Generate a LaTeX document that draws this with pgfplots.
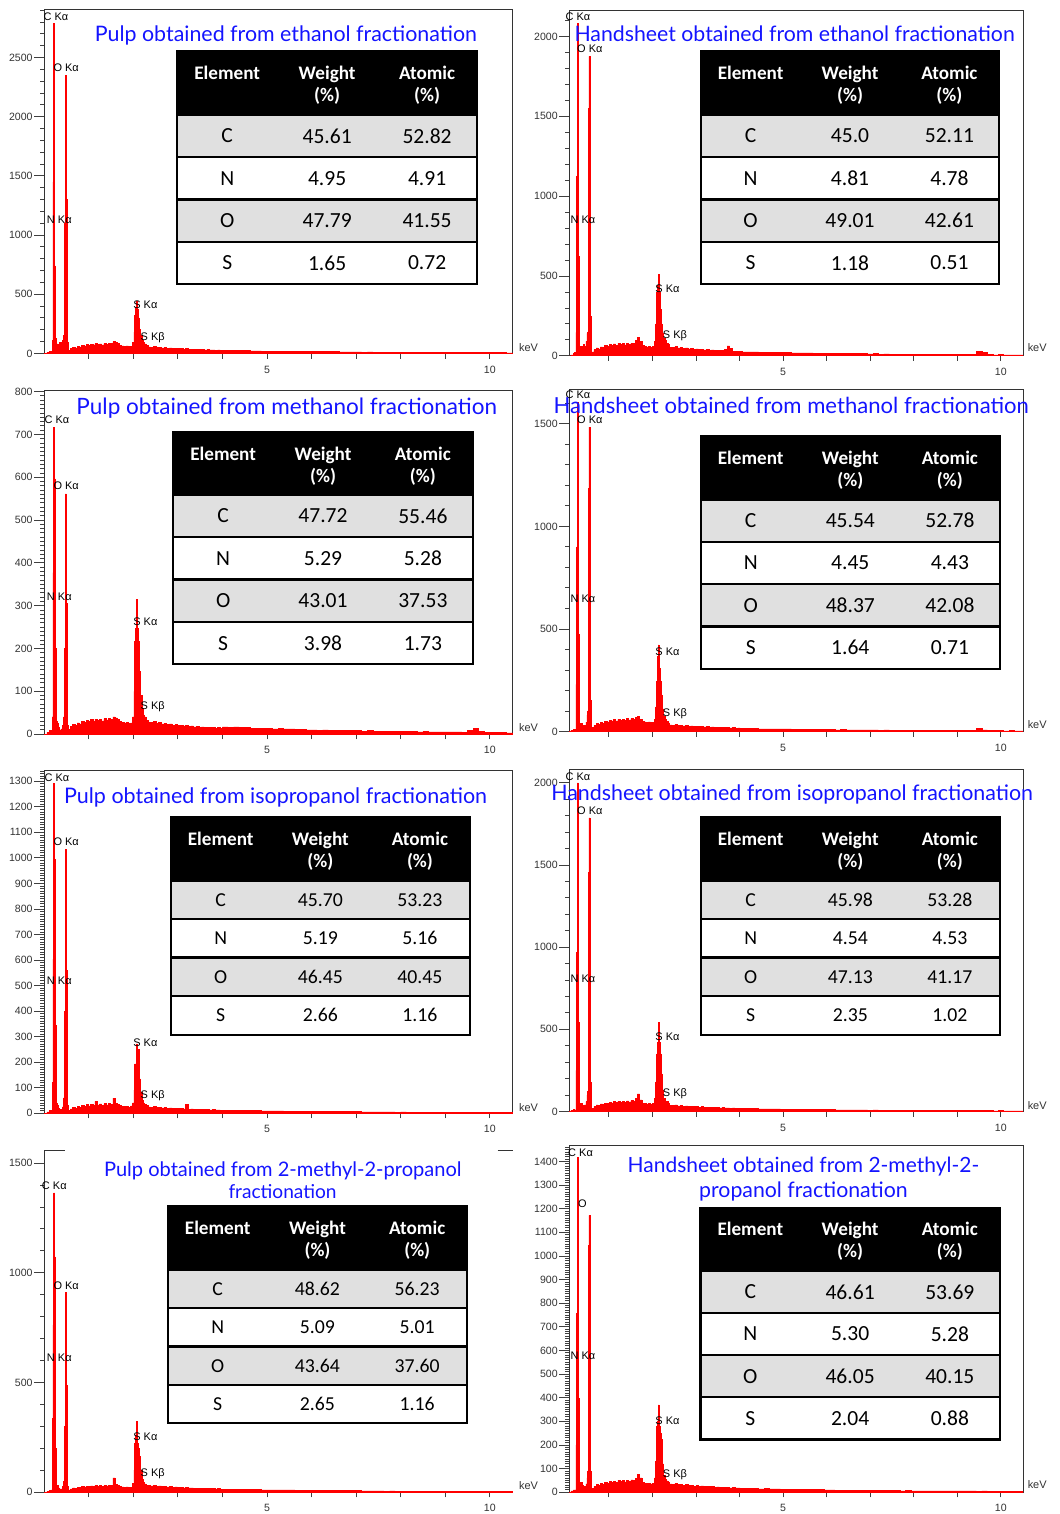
\documentclass[border=0pt]{standalone}
\usepackage{pgfplots}
\usepackage{pgfplotstable}
\pgfplotsset{compat=1.18}
\usepackage{graphicx}
\usepackage{fontspec}
\setmainfont{Liberation Sans}
\newfontfamily\titlefont{Lato}
\newfontfamily\tabfont{Carlito}
\definecolor{tabgray}{gray}{0.88}
\definecolor{ttlblue}{RGB}{20,20,255}
\newcommand\hdfont{\tabfont\bfseries\fontsize{9.6}{10}\selectfont}

\pgfplotstableread{
xL xR p1 p2 p3 p4 p5 p6 p7 p8
0.000 0.065 0 0 0 0 0 0 0 0
0.060 0.125 8 6 4 5 5 6 4 5
0.120 0.185 20 15 8 10 10 12 8 10
0.150 0.215 20 20 8 10 10 10 10 10
0.180 0.245 110 146 40 230 120 250 338 200
0.196 0.261 1450 1125 377 900 603 968 762 757
0.213 0.278 2790 2083 717 1605 1291 2000 1364 1416
0.234 0.299 740 625 596 473 994 543 1073 398
0.250 0.315 130 146 200 100 343 120 200 90
0.266 0.331 70 60 30 40 40 40 30 35
0.282 0.347 80 60 25 40 30 50 30 40
0.315 0.380 60 50 15 30 20 40 20 30
0.345 0.410 90 70 10 25 15 35 15 25
0.375 0.440 75 60 12 30 15 40 15 25
0.405 0.470 110 90 20 45 25 60 25 35
0.430 0.495 150 140 40 80 60 100 50 60
0.448 0.513 200 150 40 100 80 120 60 90
0.460 0.525 1100 677 200 576 400 644 300 398
0.468 0.533 2116 1552 526 1184 922 1453 785 1045
0.476 0.541 2352 1875 561 1484 1033 1787 909 1172
0.497 0.562 1300 1083 305 811 561 957 489 398
0.510 0.575 300 250 60 150 100 180 90 90
0.522 0.587 90 80 20 45 30 55 28 40
0.535 0.600 26 25 11 19 12 20 10 16
0.590 0.655 41 38 18 30 17 31 15 25
0.640 0.705 52 49 22 38 24 40 20 32
0.690 0.755 46 43 20 34 19 35 17 28
0.740 0.805 60 56 26 44 27 46 22 36
0.790 0.855 56 52 24 41 23 43 21 34
0.840 0.905 68 63 29 50 30 51 25 41
0.890 0.955 64 60 27 47 26 48 24 38
0.940 1.005 75 70 32 55 33 57 28 45
0.990 1.055 69 64 29 51 28 52 26 41
1.040 1.105 79 74 34 58 35 60 29 47
1.090 1.155 71 66 30 52 31 54 27 43
1.140 1.205 82 77 35 60 46 63 31 50
1.190 1.255 75 70 32 55 32 57 28 45
1.240 1.305 81 76 35 59 36 62 30 49
1.290 1.355 73 68 31 53 30 55 27 44
1.340 1.405 84 78 36 62 37 64 31 50
1.390 1.455 77 71 33 56 32 58 29 46
1.440 1.505 86 80 37 63 38 66 32 52
1.490 1.555 82 77 35 60 34 63 31 50
1.540 1.605 100 95 40 70 59 80 65 58
1.590 1.655 94 115 38 73 39 107 35 75
1.640 1.705 82 90 35 60 34 70 31 60
1.690 1.755 68 63 29 50 30 51 25 41
1.740 1.805 64 60 27 47 26 48 24 38
1.790 1.855 60 56 26 44 27 46 22 36
1.840 1.905 64 60 27 47 26 48 24 38
1.890 1.955 58 55 25 43 24 44 22 35
1.940 2.005 62 57 26 45 28 47 23 37
1.980 2.045 90 90 40 60 40 80 40 60
2.010 2.075 180 200 100 120 90 180 100 130
2.030 2.095 320 396 216 243 193 350 224 277
2.050 2.115 390 440 247 365 193 421 260 300
2.070 2.135 440 510 315 422 271 543 323 369
2.090 2.155 370 396 247 308 193 421 224 277
2.110 2.175 300 292 216 243 251 350 200 250
2.135 2.200 200 200 146 178 134 229 164 222
2.160 2.225 150 140 90 110 80 130 100 120
2.190 2.255 110 110 60 75 50 80 60 70
2.220 2.285 95 100 45 60 40 65 45 55
2.250 2.315 80 80 40 50 35 60 38 48
2.290 2.355 70 72 32 42 30 50 32 42
2.33 2.395 55 55 28 32 25 38 30 35
2.39 2.455 52 52 27 30 24 36 29 33
2.45 2.515 58 58 29 34 26 40 32 37
2.51 2.575 50 50 25 29 23 34 27 32
2.57 2.635 52 52 27 30 24 36 29 33
2.63 2.695 47 47 24 27 21 32 26 30
2.69 2.755 50 50 25 29 23 34 27 32
2.75 2.815 44 44 22 26 20 30 24 28
2.81 2.875 47 47 24 27 21 32 26 30
2.87 2.935 41 41 21 24 19 29 23 26
2.93 2.995 44 44 22 26 20 30 24 28
2.99 3.055 40 40 20 23 18 27 22 25
3.05 3.115 42 42 21 24 19 29 23 27
3.11 3.175 37 37 19 22 17 26 20 24
3.17 3.235 40 40 20 23 33 27 22 25
3.23 3.295 36 36 18 21 16 25 20 23
3.29 3.355 37 37 19 22 17 26 20 24
3.35 3.415 33 33 17 19 15 23 18 21
3.41 3.475 35 35 18 20 16 24 19 22
3.47 3.535 32 32 16 19 15 22 17 20
3.53 3.595 33 33 17 19 15 23 18 21
3.59 3.655 30 38 15 18 14 21 17 19
3.65 3.715 32 62 16 19 15 22 17 20
3.71 3.775 29 45 15 17 13 20 16 18
3.77 3.835 30 30 15 18 14 21 17 19
3.83 3.895 28 28 14 16 13 19 15 18
3.89 3.955 29 29 15 17 13 20 16 18
3.95 4.015 26 26 13 15 12 18 14 16
4.000 4.065 25 25 17 15 12 17 14 16
4.125 4.190 24 24 16 14 11 17 13 15
4.250 4.315 25 25 17 14 11 17 14 16
4.375 4.440 23 23 15 13 10 16 12 14
4.500 4.565 23 23 15 13 11 16 13 15
4.625 4.690 21 21 14 12 10 15 12 14
4.750 4.815 22 22 14 13 10 15 12 14
4.875 4.940 20 20 13 12 9 14 11 13
5.000 5.065 20 20 13 12 9 14 11 13
5.125 5.190 19 19 12 11 9 13 10 12
5.250 5.315 19 19 13 11 9 13 11 12
5.375 5.440 18 18 12 10 8 12 10 11
5.500 5.565 18 18 12 11 8 13 10 12
5.625 5.690 17 17 11 10 8 11 9 11
5.750 5.815 17 17 11 10 8 12 9 11
5.875 5.940 15 15 10 9 7 11 8 10
6.000 6.065 16 16 10 9 7 11 9 10
6.125 6.190 14 14 9 8 7 10 8 9
6.250 6.315 15 15 10 9 7 10 8 9
6.375 6.440 14 14 9 8 6 10 8 9
6.500 6.565 14 14 9 8 7 10 8 9
6.625 6.690 13 13 8 7 6 9 7 8
6.750 6.815 13 13 9 8 6 9 7 8
6.875 6.940 12 12 8 7 6 8 7 8
7.000 7.065 13 13 8 7 6 9 7 8
7.125 7.190 11 11 7 6 5 8 6 7
7.250 7.315 12 12 8 7 5 8 6 7
7.375 7.440 10 10 7 6 5 7 6 7
7.500 7.565 11 11 7 6 5 8 6 7
7.625 7.690 10 10 6 6 5 7 5 6
7.750 7.815 10 10 7 6 5 7 6 7
7.875 7.940 9 9 6 5 4 6 5 6
8.000 8.065 10 10 6 6 5 7 5 6
8.125 8.190 9 9 6 5 4 6 5 6
8.250 8.315 9 9 6 5 4 6 5 6
8.375 8.440 8 8 5 5 4 6 5 5
8.500 8.565 9 9 6 5 4 6 5 6
8.625 8.690 8 8 5 4 4 5 4 5
8.750 8.815 8 8 5 5 4 6 5 5
8.875 8.940 7 7 5 4 3 5 4 5
9.000 9.065 8 8 5 4 4 5 4 5
9.125 9.190 7 7 5 4 3 5 4 5
9.250 9.315 8 8 5 5 4 5 4 5
9.375 9.440 7 30 4 16 3 5 4 4
9.500 9.565 7 20 9 8 3 5 4 5
9.625 9.690 7 7 14 4 3 5 4 4
9.750 9.815 6 6 7 4 3 4 3 4
9.875 9.940 7 7 4 4 3 5 4 4
10.000 10.065 6 6 4 3 3 4 3 4
10.125 10.190 6 6 4 4 3 4 3 4
10.250 10.315 6 6 4 3 3 4 3 4
10.375 10.440 5 5 3 3 2 3 3 3
10.520 10.510 5 5 3 3 2 3 3 3
}\spec

\pgfplotsset{
  eds/.style={
    scale only axis, anchor=south west,
    axis line style={black!80, line width=0.5pt},
    tick pos=left, tick align=outside,
    major tick length=5pt, minor tick length=2pt,
    tick style={black!75, line width=0.4pt},
    xtick={1,...,10}, xticklabels={,,,,5,,,,,10},
    xtick style={/pgfplots/major tick length=2.6pt},
    ticklabel style={font=\fontsize{5.3}{6}\selectfont, text=black!80},
    yticklabel style={inner sep=0.6pt},
    xticklabel style={inner sep=1pt},
    /pgf/number format/assume math mode=true,
    /pgf/number format/1000 sep={},
    scaled ticks=false,
    ymin=0,
  },
  edsL/.style={eds, width=235pt, xmin=0, xmax=10.52},
  edsR/.style={eds, width=227.5pt, xmin=0.09, xmax=10.51},
  spec/.style={draw=red, fill=red, line width=0.25pt, const plot mark left},
}

\newcommand\edstable[5]{\def\Ta{#1}\def\Tb{#2}\def\Tt{#3}\def\Th{#4}\def\Tr{#5}}
\newcommand\edsrows[9]{%
  \pgfmathsetmacro\Tw{\Tb-\Ta}%
  \pgfmathsetmacro\cA{\Ta+\Tw/6}%
  \pgfmathsetmacro\cB{\Ta+\Tw/2}%
  \pgfmathsetmacro\cC{\Ta+5*\Tw/6}%
  \pgfmathsetmacro\rA{\Th+0.5*\Tr}%
  \pgfmathsetmacro\rB{\Th+1.5*\Tr}%
  \pgfmathsetmacro\rC{\Th+2.5*\Tr}%
  \pgfmathsetmacro\rD{\Th+3.5*\Tr}%
  \pgfmathsetmacro\lA{\Th+\Tr}%
  \pgfmathsetmacro\lB{\Th+2*\Tr}%
  \pgfmathsetmacro\lC{\Th+3*\Tr}%
  \pgfmathsetmacro\lD{\Th+4*\Tr}%
  \pgfmathsetmacro\hA{\Tt+28.3}%
  \pgfmathsetmacro\hB{\Tt+50}%
  \fill[black] (\Ta,\Tt) rectangle (\Tb,\Th);
  \fill[tabgray] (\Ta,\Th) rectangle (\Tb,\lA);
  \fill[tabgray] (\Ta,\lB) rectangle (\Tb,\lC);
  \draw[line width=1.1pt] (\Ta,\Tt) rectangle (\Tb,\lD);
  \draw[line width=1.1pt] (\Ta,\Th) -- (\Tb,\Th) (\Ta,\lA) -- (\Tb,\lA) (\Ta,\lB) -- (\Tb,\lB) (\Ta,\lC) -- (\Tb,\lC);
  \node[text=white,font=\hdfont,anchor=base] at (\cA,\hA) {Element};
  \node[text=white,font=\hdfont,anchor=base] at (\cB,\hA) {Weight};
  \node[text=white,font=\hdfont,anchor=base] at (\cB,\hB) {(\%)};
  \node[text=white,font=\hdfont,anchor=base] at (\cC,\hA) {Atomic};
  \node[text=white,font=\hdfont,anchor=base] at (\cC,\hB) {(\%)};
  \node[font=\tabfont\fontsize{#1}{#1}\selectfont] at (\cA,\rA) {C};
  \node[font=\tabfont\fontsize{#1}{#1}\selectfont] at (\cB,\rA) {#2};
  \node[font=\tabfont\fontsize{#1}{#1}\selectfont] at (\cC,\rA) {#3};
  \node[font=\tabfont\fontsize{#1}{#1}\selectfont] at (\cA,\rB) {N};
  \node[font=\tabfont\fontsize{#1}{#1}\selectfont] at (\cB,\rB) {#4};
  \node[font=\tabfont\fontsize{#1}{#1}\selectfont] at (\cC,\rB) {#5};
  \node[font=\tabfont\fontsize{#1}{#1}\selectfont] at (\cA,\rC) {O};
  \node[font=\tabfont\fontsize{#1}{#1}\selectfont] at (\cB,\rC) {#6};
  \node[font=\tabfont\fontsize{#1}{#1}\selectfont] at (\cC,\rC) {#7};
  \node[font=\tabfont\fontsize{#1}{#1}\selectfont] at (\cA,\rD) {S};
  \node[font=\tabfont\fontsize{#1}{#1}\selectfont] at (\cB,\rD) {#8};
  \node[font=\tabfont\fontsize{#1}{#1}\selectfont] at (\cC,\rD) {#9};
}
\newcommand\ttl[4]{\node[anchor=base, text=ttlblue, inner sep=0] at (#1,#2) {\resizebox{#3}{!}{\titlefont #4}};}
\newcommand\pk[3]{\node[anchor=west, inner sep=0, font=\fontsize{5.5}{6}\selectfont] at (#1,#2) {#3};}
\newcommand\kev[2]{\node[anchor=west, inner sep=0, text=black!80, font=\fontsize{5.5}{6}\selectfont] at (#1,#2) {keV};}
\newcommand\peaks[5]{%
  \pk{#1}{#2}{C Kα}}

\begin{document}
\begin{tikzpicture}
\begin{scope}[x=0.5pt,y=-0.5pt]
\useasboundingbox (0,0) rectangle (1062,1514);
\end{scope}

% Panel 1
\begin{axis}[edsL, at={(22.15pt,-177.15pt)}, height=172.15pt, ymax=2902,
  ytick={0,500,...,2500}, minor ytick={0,100,...,2900}]
\addplot[spec] table[x=xL,y=p1]{\spec} \closedcycle;
\end{axis}
% Panel 2
\begin{axis}[edsR, at={(285.35pt,-178.35pt)}, height=173pt, ymax=2162,
  ytick={0,500,...,2000}, minor ytick={0,100,...,2100}]
\addplot[spec] table[x=xR,y=p2]{\spec} \closedcycle;
\end{axis}
% Panel 3
\begin{axis}[edsL, at={(22.15pt,-368pt)}, height=172.15pt, ymax=802,
  ytick={0,100,...,800}, minor ytick={0,10,...,800}]
\addplot[spec] table[x=xL,y=p3]{\spec} \closedcycle;
\end{axis}
% Panel 4
\begin{axis}[edsR, at={(285.35pt,-366.65pt)}, height=171.65pt, ymax=1670,
  ytick={0,500,1000,1500}, minor ytick={0,100,...,1600}]
\addplot[spec] table[x=xR,y=p4]{\spec} \closedcycle;
\end{axis}
% Panel 5
\begin{axis}[edsL, at={(22.15pt,-558pt)}, height=171.85pt, ymax=1343,
  ytick={0,100,...,1300}, minor ytick={0,10,...,1340}]
\addplot[spec] table[x=xL,y=p5]{\spec} \closedcycle;
\end{axis}
% Panel 6
\begin{axis}[edsR, at={(285.35pt,-557.15pt)}, height=171.3pt, ymax=2080,
  ytick={0,500,...,2000}, minor ytick={0,100,...,2000}]
\addplot[spec] table[x=xR,y=p6]{\spec} \closedcycle;
\end{axis}
% Panel 7
\begin{axis}[edsL, at={(22.15pt,-748pt)}, height=171.35pt, ymax=1558,
  axis x line*=bottom, axis y line*=left, tick align=outside,
  ytick={0,500,1000,1500}, minor ytick={0,100,...,1500}]
\addplot[spec] table[x=xL,y=p7]{\spec} \closedcycle;
\end{axis}
% Panel 8
\begin{axis}[edsR, at={(285.35pt,-748pt)}, height=173.85pt, ymax=1468,
  ytick={0,100,...,1400}, minor ytick={0,10,...,1460}]
\addplot[spec] table[x=xR,y=p8]{\spec} \closedcycle;
\end{axis}

\begin{scope}[x=0.5pt,y=-0.5pt]
% panel 7 top bracket
\draw[black!80, line width=0.5pt] (44.3,1153.3) -- (65,1153.3) (499,1153.3) -- (514.3,1153.3);

% keV labels
\kev{520}{348}\kev{1030}{348.3}
\kev{520}{729}\kev{1030}{726.7}
\kev{520}{1110}\kev{1030}{1108.3}
\kev{520}{1489}\kev{1030}{1488.3}

% peak labels
\pk{43.3}{16.7}{C Kα}\pk{53.3}{68.3}{O Kα}\pk{46.7}{220}{N Kα}\pk{133.3}{305}{S Kα}\pk{140.7}{338.3}{S Kβ}
\pk{566.7}{16.7}{C Kα}\pk{578.3}{49.3}{O Kα}\pk{571.7}{220.7}{N Kα}\pk{656.7}{289.3}{S Kα}\pk{664.3}{336.7}{S Kβ}
\pk{44.3}{420.7}{C Kα}\pk{53.3}{487.3}{O Kα}\pk{46.7}{598.3}{N Kα}\pk{133.3}{623.3}{S Kα}\pk{140.7}{708.3}{S Kβ}
\pk{566.7}{396}{C Kα}\pk{578.3}{420.7}{O Kα}\pk{571.7}{600}{N Kα}\pk{656.7}{653.3}{S Kα}\pk{664.3}{715}{S Kβ}
\pk{44.3}{780}{C Kα}\pk{53.3}{844.3}{O Kα}\pk{46.7}{983.3}{N Kα}\pk{133.3}{1045}{S Kα}\pk{140.7}{1098.3}{S Kβ}
\pk{566.7}{778.3}{C Kα}\pk{578.3}{812.7}{O Kα}\pk{571.7}{981.7}{N Kα}\pk{656.7}{1039}{S Kα}\pk{664.3}{1096.7}{S Kβ}
\pk{41.7}{1189}{C Kα}\pk{53.3}{1289}{O Kα}\pk{46.7}{1361.7}{N Kα}\pk{133.3}{1440}{S Kα}\pk{140.7}{1477.3}{S Kβ}
\pk{569.3}{1156}{C Kα}\pk{579.3}{1207.3}{O}\pk{571.7}{1359}{N Kα}\pk{656.7}{1424}{S Kα}\pk{664.3}{1478.3}{S Kβ}

% titles
\ttl{286.7}{41.7}{191.5pt}{Pulp obtained from ethanol fractionation}
\ttl{796.7}{41.7}{220.7pt}{Handsheet obtained from ethanol fractionation}
\ttl{287.5}{416}{210.8pt}{Pulp obtained from methanol fractionation}
\ttl{793.3}{415}{238.3pt}{Handsheet obtained from methanol fractionation}
\ttl{276.3}{805.7}{212pt}{Pulp obtained from isopropanol fractionation}
\ttl{794.2}{802.3}{241.5pt}{Handsheet obtained from isopropanol fractionation}
\ttl{283.5}{1179.3}{179.2pt}{Pulp obtained from 2-methyl-2-propanol}
\ttl{283.3}{1201.7}{54.2pt}{fractionation}
\ttl{805.5}{1175.3}{176.2pt}{Handsheet obtained from 2-methyl-2-}
\ttl{805.5}{1201}{104.5pt}{propanol fractionation}

% tables
\edstable{177.7}{478.3}{51.7}{115}{42.5}
\edsrows{10.8}{45.61}{52.82}{4.95}{4.91}{47.79}{41.55}{1.65}{0.72}
\edstable{702.7}{1001.7}{51.7}{115}{42.5}
\edsrows{10.8}{45.0}{52.11}{4.81}{4.78}{49.01}{42.61}{1.18}{0.51}
\edstable{173.7}{474}{433.3}{496}{42.5}
\edsrows{10.8}{47.72}{55.46}{5.29}{5.28}{43.01}{37.53}{3.98}{1.73}
\edstable{702.7}{1002.3}{437.3}{500.7}{42.5}
\edsrows{10.8}{45.54}{52.78}{4.45}{4.43}{48.37}{42.08}{1.64}{0.71}
\edstable{171.3}{471}{819.3}{882.7}{38.65}
\edsrows{9.9}{45.70}{53.23}{5.19}{5.16}{46.45}{40.45}{2.66}{1.16}
\edstable{702.7}{1002.3}{819.3}{882.7}{38.65}
\edsrows{9.9}{45.98}{53.28}{4.54}{4.53}{47.13}{41.17}{2.35}{1.02}
\edstable{168.3}{468.3}{1209.3}{1273.3}{38.35}
\edsrows{9.9}{48.62}{56.23}{5.09}{5.01}{43.64}{37.60}{2.65}{1.16}
\edstable{702.3}{1002.3}{1210.7}{1274}{42.3}
\edsrows{10.8}{46.61}{53.69}{5.30}{5.28}{46.05}{40.15}{2.04}{0.88}
\end{scope}
\end{tikzpicture}
\end{document}
